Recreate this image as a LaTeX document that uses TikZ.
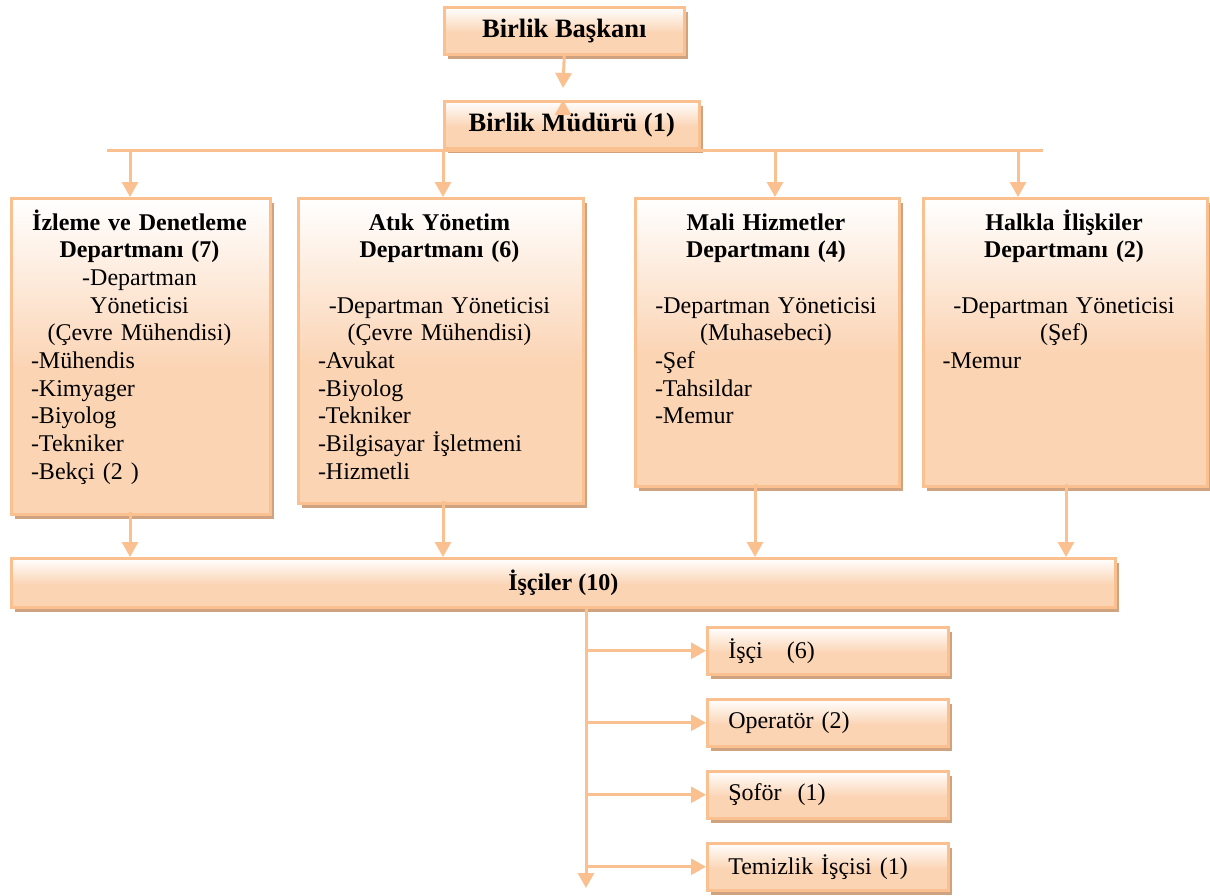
\documentclass[tikz,border=0pt]{standalone}
\usepackage{fontspec}
\setmainfont{Liberation Serif}
\usetikzlibrary{arrows.meta,shadows,calc}
\definecolor{bord}{RGB}{250,192,143}
\definecolor{peach}{RGB}{251,212,180}
\definecolor{shad}{RGB}{207,163,128}
\pgfdeclareverticalshading{wpshade}{100bp}{color(0bp)=(peach); color(25bp)=(peach); color(48bp)=(peach); color(75bp)=(white); color(100bp)=(white)}
\newcommand\cl[1]{\makebox[\linewidth][c]{#1}}
\tikzset{
  box/.style={draw=bord, line width=2.5pt, shade, shading=wpshade,
    drop shadow={shadow xshift=4pt, shadow yshift=-5pt, fill=shad, opacity=1},
    inner sep=0pt, anchor=north west},
  conn/.style={draw=bord, line width=3pt},
  arr/.style={conn, -{Triangle[width=16pt,length=15pt]}},
  body/.style={font=\fontsize{24}{27.7}\selectfont, align=left, inner sep=0pt, anchor=base},
  big/.style={font=\fontsize{26.5}{30}\selectfont\bfseries},
  small/.style={box, minimum width=241pt, minimum height=47pt, text width=199pt,
    align=left, inner xsep=21pt, font=\fontsize{24}{27.7}\selectfont}
}
\begin{document}
\begin{tikzpicture}[x=1pt,y=-1pt]
\useasboundingbox (0,0) rectangle (1210,895);

% top
\node[box, big, minimum width=240pt, minimum height=47pt] (bask) at (443,6) {Birlik Başkanı};
\node[box, big, minimum width=255pt, minimum height=47pt] (mud) at (443,100) {Birlik Müdürü (1)};

% departments
\node[box, minimum width=259pt, minimum height=316pt] (izl) at (10,197) {};
\node[box, minimum width=285pt, minimum height=305pt] (atk) at (297,197) {};
\node[box, minimum width=264pt, minimum height=288pt] (mali) at (634,197) {};
\node[box, minimum width=284pt, minimum height=288pt] (halk) at (922,197) {};

\node[body, text width=217pt] (izlT) at (139.5,230) {\cl{\bfseries İzleme ve Denetleme}\\ \cl{\bfseries Departmanı (7)}\\ \cl{-Departman}\\ \cl{Yöneticisi}\\ \cl{(Çevre Mühendisi)}\\ -Mühendis\\ -Kimyager\\ -Biyolog\\ -Tekniker\\ -Bekçi (2 )};
\node[body, text width=243pt] (atkT) at (439.5,230) {\cl{\bfseries Atık Yönetim}\\ \cl{\bfseries Departmanı (6)}\\[27.7pt] \cl{-Departman Yöneticisi}\\ \cl{(Çevre Mühendisi)}\\ -Avukat\\ -Biyolog\\ -Tekniker\\ -Bilgisayar İşletmeni\\ -Hizmetli};
\node[body, text width=222pt] (maliT) at (766,230) {\cl{\bfseries Mali Hizmetler}\\ \cl{\bfseries Departmanı (4)}\\[27.7pt] \cl{-Departman Yöneticisi}\\ \cl{(Muhasebeci)}\\ -Şef\\ -Tahsildar\\ -Memur};
\node[body, text width=243pt] (halkT) at (1064,230) {\cl{\bfseries Halkla İlişkiler}\\ \cl{\bfseries Departmanı (2)}\\[27.7pt] \cl{-Departman Yöneticisi}\\ \cl{(Şef)}\\ -Memur};

% workers
\node[box, minimum width=1104pt, minimum height=49pt, font=\fontsize{24}{27.7}\selectfont\bfseries] (isc) at (10,557) {İşçiler (10)};
\node[small] (w1) at (706,626) {İşçi\ \ \ (6)};
\node[small] (w2) at (706,698) {Operatör (2)};
\node[small] (w3) at (706,770) {Şoför\ \ (1)};
\node[small] (w4) at (706,842) {Temizlik İşçisi (1)};

% coordinates
\coordinate (bm) at (563,88);
\coordinate (upS) at (563,115);
\coordinate (upE) at (563,100);
\coordinate (busL) at (107,150);
\coordinate (busR) at (1043,150);
\coordinate (d1) at (130,150);
\coordinate (d2) at (443,150);
\coordinate (d3) at (775,150);
\coordinate (d4) at (1018,150);
\coordinate (e3) at (755,0);
\coordinate (e4) at (1066,0);
\coordinate (vb) at (586,0);
\coordinate (vEnd) at (586,888);

% connectors
\draw[arr] (bask.south) -- (bm);
\draw[arr] (upS) -- (upE);
\draw[conn] (busL) -- (busR);
\draw[arr] (d1) -- (d1 |- izl.north);
\draw[arr] (d2) -- (d2 |- atk.north);
\draw[arr] (d3) -- (d3 |- mali.north);
\draw[arr] (d4) -- (d4 |- halk.north);

\draw[arr] ($(izl.south -| d1)+(0,-4)$) -- (isc.north -| d1);
\draw[arr] ($(atk.south -| d2)+(0,-4)$) -- (isc.north -| d2);
\draw[arr] ($(mali.south -| e3)+(0,-4)$) -- (isc.north -| e3);
\draw[arr] ($(halk.south -| e4)+(0,-4)$) -- (isc.north -| e4);

\draw[arr] (isc.south -| vb) -- (vEnd);
\draw[arr] (w1.west -| vb) -- (w1.west);
\draw[arr] (w2.west -| vb) -- (w2.west);
\draw[arr] (w3.west -| vb) -- (w3.west);
\draw[arr] (w4.west -| vb) -- (w4.west);
\end{tikzpicture}
\end{document}
